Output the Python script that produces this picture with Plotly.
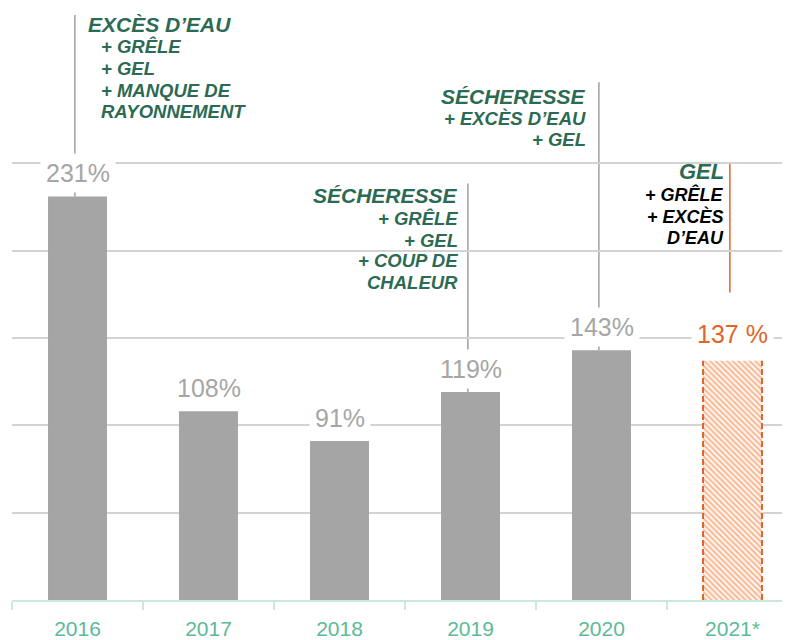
import plotly.graph_objects as go

# ---- data ----
years = ["2016", "2017", "2018", "2019", "2020", "2021*"]
values = [231, 108, 91, 119, 143, 137]
value_labels = ["231%", "108%", "91%", "119%", "143%", "137 %"]
ytick_vals = [0, 50, 100, 150, 200, 250]

note_2016 = ["EXCÈS D’EAU", "+ GRÊLE", "+ GEL", "+ MANQUE DE", "RAYONNEMENT"]
note_2019 = ["SÉCHERESSE", "+ GRÊLE", "+ GEL", "+ COUP DE", "CHALEUR"]
note_2020 = ["SÉCHERESSE", "+ EXCÈS D’EAU", "+ GEL"]
note_2021 = ["GEL", "+ GRÊLE", "+ EXCÈS", "D’EAU"]

# ---- style ----
GRAY_BAR = "#a5a5a5"
LABEL_GRAY = "#a6a6a6"
GREEN = "#2b6a53"
ORANGE = "#e0652a"
HATCH = "#f07b35"
TICK_GREEN = "#5bbb97"
AXIS_LINE = "#cbe8dc"
GRID = "#d3d3d3"
FONT = "Liberation Sans"

PX_PER_UNIT = 1.762   # pixels per % on the value axis
BASE_PX = 605          # screen row of the zero line
OFF_X = 8              # page (body) offset
OFF_Y = 8


def py(p):
    """screen pixel row -> value-axis position (layout helper for notes)"""
    return (BASE_PX - p) / PX_PER_UNIT


W = 0.45
n_hist = len(years) - 1

fig = go.Figure()
fig.add_trace(go.Bar(
    x=list(range(n_hist)), y=values[:n_hist], width=W,
    marker=dict(color=GRAY_BAR, line=dict(width=0)),
    hoverinfo="skip", showlegend=False,
))
fig.add_trace(go.Bar(
    x=[n_hist], y=[values[n_hist]], width=W,
    marker=dict(color="white", line=dict(width=0),
                pattern=dict(shape="\\", fgcolor=HATCH, bgcolor="white",
                             size=4, solidity=0.6)),
    hoverinfo="skip", showlegend=False,
))
# dashed side borders of the forecast bar
for side in (-1, 1):
    xe = n_hist + side * W / 2
    fig.add_trace(go.Scatter(
        x=[xe, xe], y=[0, values[n_hist]], mode="lines",
        line=dict(color=ORANGE, width=2, dash="6px,3px"),
        hoverinfo="skip", showlegend=False,
    ))

# value labels above bars
for i, (v, t) in enumerate(zip(values, value_labels)):
    last = i == n_hist
    fig.add_annotation(
        x=i, y=v, xref="x", yref="y", text=t, showarrow=False,
        yanchor="middle", yshift=27 if last else 23,
        font=dict(family=FONT, size=25, color=ORANGE if last else LABEL_GRAY),
        bgcolor="white", borderpad=5,
    )

# vertical leader lines
leaders = [
    (0, py(15), values[0], "#a0a0a0"),
    (3, py(185), values[3], "#a0a0a0"),
    (4, py(83), values[4], "#a0a0a0"),
    (5, py(165), py(295), ORANGE),
]
for xi, y0, y1, col in leaders:
    fig.add_shape(type="line", xref="x", yref="y",
                  x0=xi - 0.02, x1=xi - 0.02, y0=y0, y1=y1,
                  line=dict(color=col, width=1.5), layer="below")


def note(xi, xshift, lines, ys, anchor, sizes, colors):
    for t, yy, s, c in zip(lines, ys, sizes, colors):
        fig.add_annotation(
            x=xi, y=py(yy), xref="x", yref="y", text=t, showarrow=False,
            xanchor=anchor, yanchor="middle", xshift=xshift,
            font=dict(family=FONT, size=s, color=c, weight="bold", style="italic"),
        )


# 2016 block (left aligned, indented continuation lines)
note(0, 8, note_2016[:1], [25], "left", [21], [GREEN])
note(0, 21, note_2016[1:], [47, 69, 91, 112], "left", [18.5] * 4, [GREEN] * 4)
# 2019 block (right aligned)
note(3, -11, note_2019, [197, 220, 242, 263, 285], "right",
     [21, 18.5, 18.5, 18.5, 18.5], [GREEN] * 5)
# 2020 block
note(4, -14, note_2020, [97, 119, 141], "right", [21, 18.5, 18.5], [GREEN] * 3)
# 2021 block
note(5, -7, note_2021, [173, 196, 218, 240], "right", [22, 18, 18, 18],
     [GREEN, "black", "black", "black"])

fig.update_layout(
    width=790 - OFF_X, height=640 - OFF_Y,
    margin=dict(l=12 - OFF_X, r=0, t=0, b=640 - BASE_PX),
    plot_bgcolor="white", paper_bgcolor="white",
    barmode="overlay",
    xaxis=dict(
        tickmode="array", tickvals=list(range(len(years))), ticktext=years,
        range=[-0.5, -0.5 + 778 / 131],
        showgrid=False, zeroline=False,
        showline=True, linecolor=AXIS_LINE, linewidth=2,
        ticks="", ticklabelstandoff=9,
        minor=dict(tick0=-0.5, dtick=1, ticks="outside", ticklen=8,
                   tickcolor=AXIS_LINE, tickwidth=2, showgrid=False),
        tickfont=dict(family=FONT, size=21, color=TICK_GREEN),
    ),
    yaxis=dict(
        range=[0, (BASE_PX - OFF_Y) / PX_PER_UNIT],
        tickvals=ytick_vals, showticklabels=False,
        showgrid=True, gridcolor=GRID, gridwidth=1.5,
        zeroline=False, showline=False,
    ),
)

fig.write_html("out.html")
